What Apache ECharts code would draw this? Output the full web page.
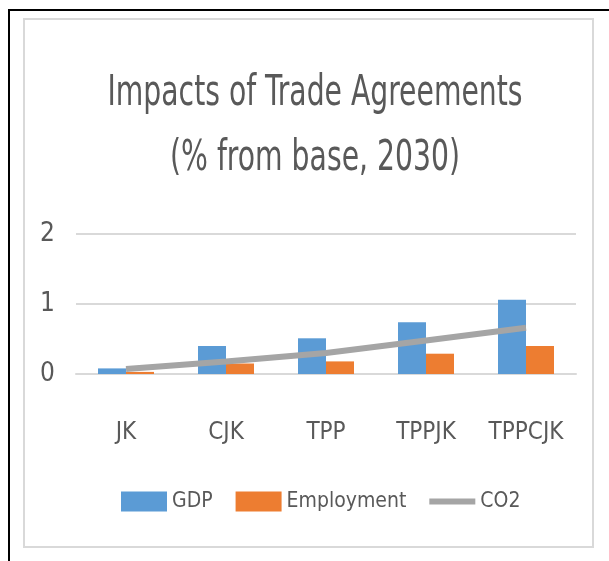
<!DOCTYPE html>
<html>
<head>
<meta charset="utf-8">
<style>
  html, body { margin: 0; padding: 0; background: #ffffff; }
  #chart { width: 609px; height: 561px; }
</style>
<script src="https://cdn.jsdelivr.net/npm/echarts@6/dist/echarts.min.js"></script>
</head>
<body>
<div id="chart"></div>
<script>
// Trade agreement scenarios and their impacts (% change from base, 2030)
const categories = ['JK', 'CJK', 'TPP', 'TPPJK', 'TPPCJK'];
const gdp = [0.08, 0.40, 0.51, 0.74, 1.06];
const employment = [0.03, 0.15, 0.18, 0.29, 0.40];
const co2 = [0.07, 0.18, 0.30, 0.48, 0.66];
const yTicks = [0, 1, 2];
const titleLines = ['Impacts of Trade Agreements', '(% from base, 2030)'];

const FONT = '"DejaVu Sans Condensed", "DejaVu Sans", sans-serif';
const TEXT = '#595959';

// The title is set in a condensed face: measure each line and squeeze it
// horizontally to its target width.
const measureCtx = document.createElement('canvas').getContext('2d');
function titleLine(text, y, fontSize, targetWidth) {
  measureCtx.font = fontSize + 'px ' + FONT;
  const w = measureCtx.measureText(text).width;
  return {
    type: 'text',
    x: 315,
    y: y,
    scaleX: targetWidth / w,
    silent: true,
    style: {
      x: 0,
      y: 0,
      text: text,
      fill: TEXT,
      font: fontSize + 'px ' + FONT,
      textAlign: 'center',
      textVerticalAlign: 'middle'
    }
  };
}

const chart = echarts.init(document.getElementById('chart'), null, { renderer: 'canvas' });

chart.setOption({
  backgroundColor: '#ffffff',
  animation: false,
  graphic: [
    {
      type: 'rect',
      shape: { x: 24, y: 19, width: 569, height: 528 },
      style: { fill: 'none', stroke: '#D9D9D9', lineWidth: 2 },
      silent: true
    },
    {
      type: 'polyline',
      shape: { points: [[9, 561], [9, 10], [609, 10]] },
      style: { fill: 'none', stroke: '#000000', lineWidth: 2 },
      silent: true
    },
    titleLine(titleLines[0], 94, 42, 415),
    titleLine(titleLines[1], 159, 42, 290)
  ],
  legend: {
    left: 116,
    top: 486,
    itemWidth: 46,
    itemHeight: 20,
    itemGap: 23,
    textStyle: { fontFamily: FONT, fontSize: 21, color: TEXT },
    data: [
      { name: 'GDP', icon: 'rect' },
      { name: 'Employment', icon: 'rect' },
      { name: 'CO2', icon: 'path://M0,0L46,0L46,6L0,6Z', itemStyle: { color: '#A5A5A5' } }
    ]
  },
  grid: { left: 76, right: 33, top: 234, bottom: 187 },
  xAxis: {
    type: 'category',
    data: categories,
    axisLine: { lineStyle: { color: '#D9D9D9', width: 2 } },
    axisTick: { show: false },
    axisLabel: { fontFamily: FONT, fontSize: 24, color: TEXT, margin: 47 }
  },
  yAxis: {
    type: 'value',
    min: yTicks[0],
    max: yTicks[yTicks.length - 1],
    interval: 1,
    axisLine: { show: false },
    axisTick: { show: false },
    axisLabel: { fontFamily: FONT, fontSize: 26, color: TEXT, margin: 21 },
    splitLine: { lineStyle: { color: '#D9D9D9', width: 2 } }
  },
  series: [
    {
      name: 'GDP',
      type: 'bar',
      data: gdp,
      barWidth: 28,
      barGap: '0%',
      itemStyle: { color: '#5B9BD5' }
    },
    {
      name: 'Employment',
      type: 'bar',
      data: employment,
      barWidth: 28,
      barGap: '0%',
      itemStyle: { color: '#ED7D31' }
    },
    {
      name: 'CO2',
      type: 'line',
      data: co2,
      symbol: 'none',
      z: 5,
      lineStyle: { color: '#A5A5A5', width: 6 },
      itemStyle: { color: '#A5A5A5' }
    }
  ]
});
</script>
</body>
</html>
